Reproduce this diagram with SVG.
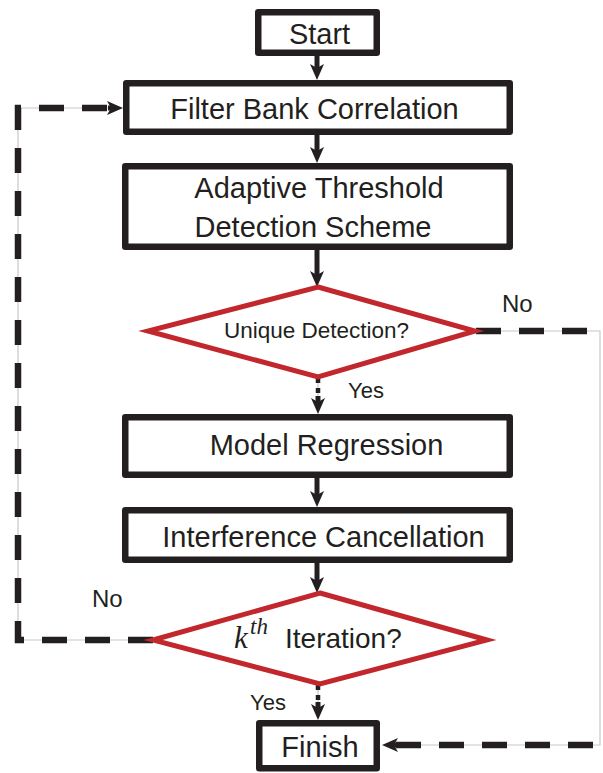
<svg xmlns="http://www.w3.org/2000/svg" width="603" height="773" viewBox="0 0 603 773">
<defs>
<style>
.box{fill:#fff;stroke:#231f20;stroke-width:6.5;stroke-linejoin:round}
.dia{fill:#fff;stroke:#c1272d;stroke-width:5;stroke-linejoin:miter}
.t{font-family:"Liberation Sans",Arial,sans-serif;fill:#231f20;font-size:29px;text-anchor:middle}
.lbl{font-family:"Liberation Sans",Arial,sans-serif;fill:#231f20}
.solid{fill:none;stroke:#231f20;stroke-width:5}
.guide{fill:none;stroke:#c8c8c8;stroke-width:1.2}
.dash{fill:none;stroke:#231f20;stroke-width:6.5;stroke-dasharray:25 18}
.dot{fill:none;stroke:#231f20;stroke-width:4.5;stroke-dasharray:5 5}
</style>
<marker id="ah" viewBox="0 0 16 14" refX="6" refY="7" markerWidth="16" markerHeight="14" markerUnits="userSpaceOnUse" orient="auto">
<path d="M0,0 L16,7 L0,14 L4,7 z" fill="#231f20"/>
</marker>
</defs>

<g id="connectors">
<line class="solid" x1="317" y1="56" x2="317" y2="70" marker-end="url(#ah)"/>
<line class="solid" x1="317" y1="135" x2="317" y2="153" marker-end="url(#ah)"/>
<line class="solid" x1="317" y1="250" x2="317" y2="277" marker-end="url(#ah)"/>
<line class="guide" x1="318" y1="378" x2="318" y2="404"/>
<line class="dot" x1="318" y1="378" x2="318" y2="398"/>
<line class="solid" x1="318" y1="396" x2="318" y2="404" marker-end="url(#ah)" stroke-width="2"/>
<line class="solid" x1="317" y1="478" x2="317" y2="497" marker-end="url(#ah)"/>
<line class="solid" x1="317" y1="563" x2="317" y2="583" marker-end="url(#ah)"/>
<line class="guide" x1="318" y1="685" x2="318" y2="710"/>
<line class="dot" x1="318" y1="685" x2="318" y2="704"/>
<line class="solid" x1="318" y1="702" x2="318" y2="710" marker-end="url(#ah)" stroke-width="2"/>
<path class="guide" d="M153,640 H18 V108 H113"/>
<path class="dash" d="M153,640 H18 V108 H110"/>
<line class="solid" x1="108" y1="108" x2="113" y2="108" stroke-width="2" marker-end="url(#ah)"/>
<path class="guide" d="M476,331 H600 V745 H392"/>
<path class="dash" d="M476,331 H607 V745 H396"/>
<line class="solid" x1="396" y1="745" x2="392" y2="745" stroke-width="2" marker-end="url(#ah)"/>
</g>

<g id="start">
<rect class="box" x="258.25" y="12.25" width="118.5" height="40.5"/>
<text class="t" x="319.5" y="44">Start</text>
</g>
<g id="filter-bank">
<rect class="box" x="126.25" y="83.25" width="383.5" height="48.5"/>
<text class="t" x="314.5" y="119">Filter Bank Correlation</text>
</g>
<g id="adaptive-threshold">
<rect class="box" x="125.25" y="166.25" width="384.5" height="80.5"/>
<text class="t" x="319" y="198">Adaptive Threshold</text>
<text class="t" x="313" y="237">Detection Scheme</text>
</g>
<g id="unique-detection">
<polygon class="dia" points="318,287 475,331 318,377 148,331"/>
<text class="lbl" x="316.5" y="338" font-size="22.5" text-anchor="middle">Unique Detection?</text>
<text class="lbl" x="502" y="312" font-size="24">No</text>
<text class="lbl" x="348" y="398" font-size="22">Yes</text>
</g>
<g id="model-regression">
<rect class="box" x="125.25" y="417.25" width="384.5" height="57.5"/>
<text class="t" x="326.5" y="455">Model Regression</text>
</g>
<g id="interference-cancellation">
<rect class="box" x="125.25" y="510.25" width="384.5" height="49.5"/>
<text class="t" x="323.5" y="547">Interference Cancellation</text>
</g>
<g id="kth-iteration">
<polygon class="dia" points="320,593 487,640 320,684 153,640"/>
<text x="234" y="648" font-family="'Liberation Serif','Times New Roman',serif" font-style="italic" font-size="31" fill="#231f20">k</text>
<text x="250" y="634" font-family="'Liberation Serif','Times New Roman',serif" font-style="italic" font-size="23" fill="#231f20">th</text>
<text class="lbl" x="285" y="648" font-size="28">Iteration?</text>
<text class="lbl" x="92" y="607" font-size="24">No</text>
<text class="lbl" x="250" y="710" font-size="22">Yes</text>
</g>
<g id="finish">
<rect class="box" x="259.25" y="723.25" width="117.5" height="45"/>
<text class="t" x="320" y="757" font-size="27">Finish</text>
</g>
</svg>
